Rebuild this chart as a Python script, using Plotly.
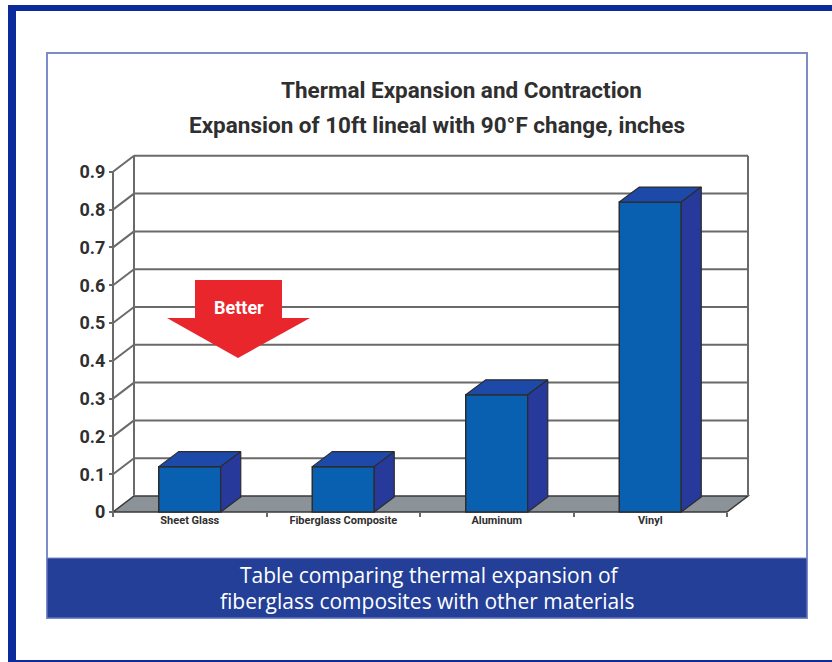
import plotly.graph_objects as go

# ---------------- data ----------------
categories = ["Sheet Glass", "Fiberglass Composite", "Aluminum", "Vinyl"]
expansion_in = [0.12, 0.12, 0.31, 0.82]
y_tick_values = [0, 0.1, 0.2, 0.3, 0.4, 0.5, 0.6, 0.7, 0.8, 0.9]
y_tick_labels = ["0", "0.1", "0.2", "0.3", "0.4", "0.5", "0.6", "0.7", "0.8", "0.9"]
title_line1 = "Thermal Expansion and Contraction"
title_line2 = "Expansion of 10ft lineal with 90°F change, inches"
caption_line1 = "Table comparing thermal expansion of"
caption_line2 = "fiberglass composites with other materials"
arrow_label = "Better"

# ---------------- layout geometry / style ----------------
W, H = 832, 662
X_ORIGIN_PX, X_UNIT_PX = 113.0, 153.5      # front plane: category units -> px
Y_ORIGIN_PX, Y_UNIT_PX = 512.0, 378.0      # value units -> px
DEPTH_X = 21.0 / X_UNIT_PX                  # 3-D depth offset (category units)
DEPTH_Y = 16.0 / Y_UNIT_PX                  # 3-D depth offset (value units)
BAR_DX = 20.0 / X_UNIT_PX
BAR_DY = 15.0 / Y_UNIT_PX
BAR_WIDTH = 62.0 / X_UNIT_PX
Y_TOP = 0.9

x_range = [-X_ORIGIN_PX / X_UNIT_PX, (W - X_ORIGIN_PX) / X_UNIT_PX]
y_range = [-(H - Y_ORIGIN_PX) / Y_UNIT_PX, Y_ORIGIN_PX / Y_UNIT_PX]

COND = "Roboto, Liberation Sans Narrow, sans-serif"
TEXT = "#2f2f2f"
GRID = "#6a6a6a"
FRONT = "#0a60b0"
TOP = "#1d4aa8"
SIDE = "#27399a"
EDGE = "#2c2c2c"
FLOOR = "#8c9398"
RED = "#e8262c"
NAVY = "#0b2a9c"
BAND = "#233f98"
BOX = "#7d8bc9"

n = len(categories)
centers = [i + 0.5 for i in range(n)]

fig = go.Figure()

# front faces of the bars
fig.add_trace(go.Bar(
    x=centers, y=expansion_in, width=BAR_WIDTH,
    marker=dict(color=FRONT, line=dict(color=EDGE, width=1.5)),
    hoverinfo="skip",
))

# top and side faces (3-D effect) computed from the values
for c, v in zip(centers, expansion_in):
    l, r = c - BAR_WIDTH / 2, c + BAR_WIDTH / 2
    fig.add_trace(go.Scatter(
        x=[l, r, r + BAR_DX, l + BAR_DX, l],
        y=[v, v, v + BAR_DY, v + BAR_DY, v],
        fill="toself", fillcolor=TOP, mode="lines",
        line=dict(color=EDGE, width=1.2), hoverinfo="skip",
    ))
    fig.add_trace(go.Scatter(
        x=[r, r + BAR_DX, r + BAR_DX, r, r],
        y=[0, BAR_DY, v + BAR_DY, v, 0],
        fill="toself", fillcolor=SIDE, mode="lines",
        line=dict(color=EDGE, width=1.2), hoverinfo="skip",
    ))

shapes = []
# floor
shapes.append(dict(
    type="path", xref="x", yref="y", layer="below",
    path=f"M0,0 L{n},0 L{n + DEPTH_X},{DEPTH_Y} L{DEPTH_X},{DEPTH_Y} Z",
    fillcolor=FLOOR, line=dict(color="#3a3a3a", width=1.5),
))
# back wall gridlines + left wall connectors
for v in y_tick_values[1:]:
    shapes.append(dict(type="line", xref="x", yref="y", layer="below",
                       x0=DEPTH_X, x1=n + DEPTH_X, y0=v + DEPTH_Y, y1=v + DEPTH_Y,
                       line=dict(color=GRID, width=2)))
    shapes.append(dict(type="line", xref="x", yref="y", layer="below",
                       x0=0, x1=DEPTH_X, y0=v, y1=v + DEPTH_Y,
                       line=dict(color=GRID, width=2)))
# back wall verticals and front value axis
for x0, x1, y0, y1 in [
    (DEPTH_X, DEPTH_X, DEPTH_Y, Y_TOP + DEPTH_Y),
    (n + DEPTH_X, n + DEPTH_X, DEPTH_Y, Y_TOP + DEPTH_Y),
    (0, 0, 0, Y_TOP),
]:
    shapes.append(dict(type="line", xref="x", yref="y", layer="below",
                       x0=x0, x1=x1, y0=y0, y1=y1,
                       line=dict(color=GRID, width=2)))

# "Better" arrow (decoration, in axis units)
def px2u(px):
    return (px - X_ORIGIN_PX) / X_UNIT_PX
def py2v(py):
    return (Y_ORIGIN_PX - py) / Y_UNIT_PX
arrow_pts = [(195, 280), (282, 280), (282, 318), (310, 318), (238, 358),
             (167, 318), (195, 318)]
arrow_path = "M" + " L".join(f"{px2u(a)},{py2v(b)}" for a, b in arrow_pts) + " Z"
shapes.append(dict(type="path", xref="x", yref="y", layer="above",
                   path=arrow_path, fillcolor=RED, line=dict(width=0)))

# frame elements (paper coords, from pixel positions)
def pxx(px):
    return px / W
def pxy(py):
    return 1 - py / H
shapes += [
    dict(type="rect", xref="paper", yref="paper", layer="below",
         x0=pxx(47), x1=pxx(807), y0=pxy(618), y1=pxy(53),
         line=dict(color=BOX, width=2), fillcolor="rgba(0,0,0,0)"),
    dict(type="rect", xref="paper", yref="paper", layer="above",
         x0=pxx(47), x1=pxx(807), y0=pxy(618), y1=pxy(558),
         line=dict(color=BOX, width=1), fillcolor=BAND),
    dict(type="rect", xref="paper", yref="paper", layer="above",
         x0=pxx(8), x1=pxx(832), y0=pxy(11), y1=pxy(5),
         line=dict(width=0), fillcolor=NAVY),
    dict(type="rect", xref="paper", yref="paper", layer="above",
         x0=pxx(8), x1=pxx(16), y0=pxy(662), y1=pxy(5),
         line=dict(width=0), fillcolor=NAVY),
    dict(type="rect", xref="paper", yref="paper", layer="above",
         x0=pxx(8), x1=pxx(832), y0=pxy(662), y1=pxy(660),
         line=dict(width=0), fillcolor=NAVY),
]

annotations = [
    dict(text=title_line1, xref="paper", yref="paper",
         x=pxx(461.5), y=pxy(90), xanchor="center", yanchor="middle",
         showarrow=False, font=dict(family=COND, size=22.5, color=TEXT, weight="bold")),
    dict(text=title_line2, xref="paper", yref="paper",
         x=pxx(437), y=pxy(125), xanchor="center", yanchor="middle",
         showarrow=False, font=dict(family=COND, size=22.5, color=TEXT, weight="bold")),
    dict(text=caption_line1, xref="paper", yref="paper",
         x=pxx(430), y=pxy(575), xanchor="center", yanchor="middle",
         showarrow=False, font=dict(family="Open Sans, sans-serif", size=21, color="white")),
    dict(text=caption_line2, xref="paper", yref="paper",
         x=pxx(428), y=pxy(601), xanchor="center", yanchor="middle",
         showarrow=False, font=dict(family="Open Sans, sans-serif", size=21, color="white")),
    dict(text=arrow_label, xref="x", yref="y",
         x=px2u(238.5), y=py2v(307), xanchor="center", yanchor="middle",
         showarrow=False, font=dict(family=COND, size=18, color="white", weight="bold")),
]

fig.update_layout(
    width=W, height=H, margin=dict(l=0, r=0, t=0, b=0, pad=0),
    paper_bgcolor="white", plot_bgcolor="rgba(0,0,0,0)",
    showlegend=False, shapes=shapes, annotations=annotations,
    xaxis=dict(
        range=x_range, domain=[0, 1], anchor="free",
        position=(H - Y_ORIGIN_PX) / H,
        tickmode="array", tickvals=centers, ticktext=categories,
        ticks="", showgrid=False, zeroline=False, showline=False,
        tickfont=dict(family=COND, size=11, color=TEXT, weight="bold"),
        minor=dict(tickmode="array", tickvals=list(range(n + 1)),
                   ticks="outside", ticklen=4, tickwidth=1.5, tickcolor=GRID,
                   showgrid=False),
        fixedrange=True,
    ),
    yaxis=dict(
        range=y_range, domain=[0, 1], anchor="free",
        position=X_ORIGIN_PX / W,
        tickmode="array", tickvals=y_tick_values, ticktext=y_tick_labels,
        ticks="outside", ticklen=4, tickwidth=2, tickcolor=GRID,
        showgrid=False, zeroline=False, showline=False,
        tickfont=dict(family=COND, size=18, color=TEXT, weight="bold"),
        fixedrange=True,
    ),
)

fig.write_html("out.html", config={"displayModeBar": False})
